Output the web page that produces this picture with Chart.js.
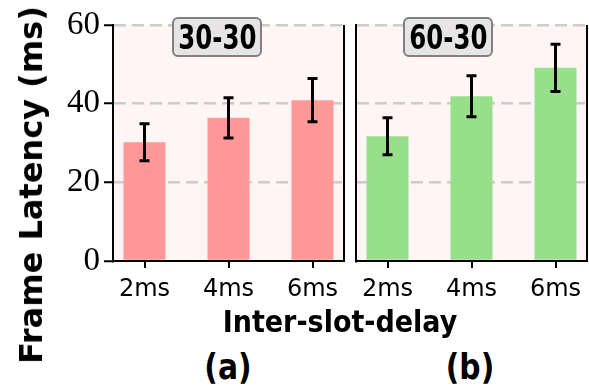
<!DOCTYPE html>
<html>
<head>
<meta charset="utf-8">
<script src="https://cdn.jsdelivr.net/npm/chart.js@4.4.0/dist/chart.umd.min.js"></script>
<style>
  body { margin:0; background:#fff; }
  #fig { position:relative; width:589px; height:389px; overflow:hidden; font-family:"DejaVu Sans", sans-serif; color:#000; }
  .panel { position:absolute; top:0; }
  .txt { position:absolute; white-space:nowrap; font-weight:bold; line-height:1; }
  .tag { position:absolute; top:17px; width:90px; height:40px; box-sizing:border-box; border:2px solid #808080; border-radius:6px;
         background:#e6e4e4; display:flex; align-items:center; justify-content:center; white-space:nowrap; }
  .tag span { font-weight:bold; font-size:34px; line-height:1; display:inline-block; transform:scaleX(0.72); }
</style>
</head>
<body>
<div id="fig">
  <div class="panel" style="left:0;width:350px;height:310px"><canvas id="chartA" width="350" height="310"></canvas></div>
  <div class="panel" style="left:350px;width:239px;height:310px"><canvas id="chartB" width="239" height="310"></canvas></div>
  <div class="tag" style="left:172px"><span>30-30</span></div>
  <div class="tag" style="left:403px"><span>60-30</span></div>
  <div class="txt" id="ylab" style="left:31px;top:185px;font-size:32px;transform:translate(-50%,-50%) rotate(-90deg)">Frame Latency (ms)</div>
  <div class="txt" style="left:340px;top:321px;font-size:31px;transform:translate(-50%,-50%) scaleX(0.87)">Inter-slot-delay</div>
  <div class="txt" style="left:228px;top:367px;font-size:35px;transform:translate(-50%,-50%) scaleX(0.85)">(a)</div>
  <div class="txt" style="left:470px;top:367px;font-size:35px;transform:translate(-50%,-50%) scaleX(0.85)">(b)</div>
</div>
<script>
// data
const delays = ['2ms', '4ms', '6ms'];
const yTicks = [0, 20, 40, 60];
const latency3030 = [30.2, 36.4, 40.9];
const err3030 = [4.7, 5.1, 5.5];
const latency6030 = [31.7, 41.9, 49.1];
const err6030 = [4.7, 5.2, 6.0];

const panelPlugin = {
  id: 'panel',
  beforeDraw(chart) {
    const a = chart.chartArea, ctx = chart.ctx;
    ctx.save();
    ctx.fillStyle = '#fff5f4';
    ctx.fillRect(a.left, a.top, a.right - a.left, a.bottom - a.top);
    ctx.restore();
  },
  afterDatasetsDraw(chart, args, opts) {
    const ctx = chart.ctx, ys = chart.scales.y;
    const meta = chart.getDatasetMeta(0);
    const vals = chart.data.datasets[0].data;
    ctx.save();
    ctx.strokeStyle = '#000';
    ctx.lineWidth = 3;
    meta.data.forEach((bar, i) => {
      const v = vals[i].y, e = opts.errors[i];
      const t = ys.getPixelForValue(v + e), b = ys.getPixelForValue(v - e);
      ctx.beginPath();
      ctx.moveTo(bar.x, t); ctx.lineTo(bar.x, b);
      ctx.moveTo(bar.x - 5, t); ctx.lineTo(bar.x + 5, t);
      ctx.moveTo(bar.x - 5, b); ctx.lineTo(bar.x + 5, b);
      ctx.stroke();
    });
    ctx.restore();
  },
  afterDraw(chart) {
    // right spine
    const a = chart.chartArea, ctx = chart.ctx;
    ctx.save();
    ctx.strokeStyle = '#000';
    ctx.lineWidth = 2;
    ctx.beginPath();
    ctx.moveTo(a.right, a.top); ctx.lineTo(a.right, a.bottom + 1);
    ctx.stroke();
    ctx.restore();
  }
};

function makePanel(id, values, errors, color, showY) {
  return new Chart(document.getElementById(id), {
    type: 'bar',
    data: {
      datasets: [{
        data: values.map((v, i) => ({ x: i, y: v })),
        backgroundColor: color,
        borderWidth: 0,
        barPercentage: 0.5,
        categoryPercentage: 1.0
      }]
    },
    options: {
      responsive: false,
      animation: false,
      layout: { padding: { top: 25, right: showY ? 6 : 2, bottom: 9, left: 0 } },
      plugins: { legend: { display: false }, tooltip: { enabled: false }, panel: { errors: errors } },
      scales: {
        x: {
          type: 'linear', min: -0.375, max: 2.375, offset: false,
          afterBuildTicks(s) { s.ticks = delays.map((d, i) => ({ value: i })); },
          afterFit(s) { s.height = 40; },
          ticks: { callback: (v, i) => delays[i], color: '#000', font: { family: 'DejaVu Sans', size: 24 }, padding: 7, autoSkip: false, maxRotation: 0 },
          grid: { offset: false, drawOnChartArea: false, color: '#000', lineWidth: 2, tickLength: 7 },
          border: { color: '#000', width: 2, z: 1 }
        },
        y: {
          min: 0, max: 60,
          afterBuildTicks(s) { s.ticks = yTicks.map(v => ({ value: v })); },
          afterFit(s) { s.width = showY ? 113 : 6; },
          ticks: { display: showY, color: '#000', font: { family: "'Liberation Serif', serif", size: 33 }, padding: 4 },
          grid: {
            color: c => (c.tick && c.tick.value === 0) ? 'rgba(0,0,0,0)' : '#cccccc',
            lineWidth: 2.5, drawTicks: showY, tickLength: 9, tickColor: '#000', tickWidth: 2
          },
          border: { color: '#000', width: 2, dash: [12, 6], z: 1 }
        }
      }
    },
    plugins: [panelPlugin]
  });
}

makePanel('chartA', latency3030, err3030, '#ff9896', true);
makePanel('chartB', latency6030, err6030, '#98df8a', false);
</script>
</body>
</html>
